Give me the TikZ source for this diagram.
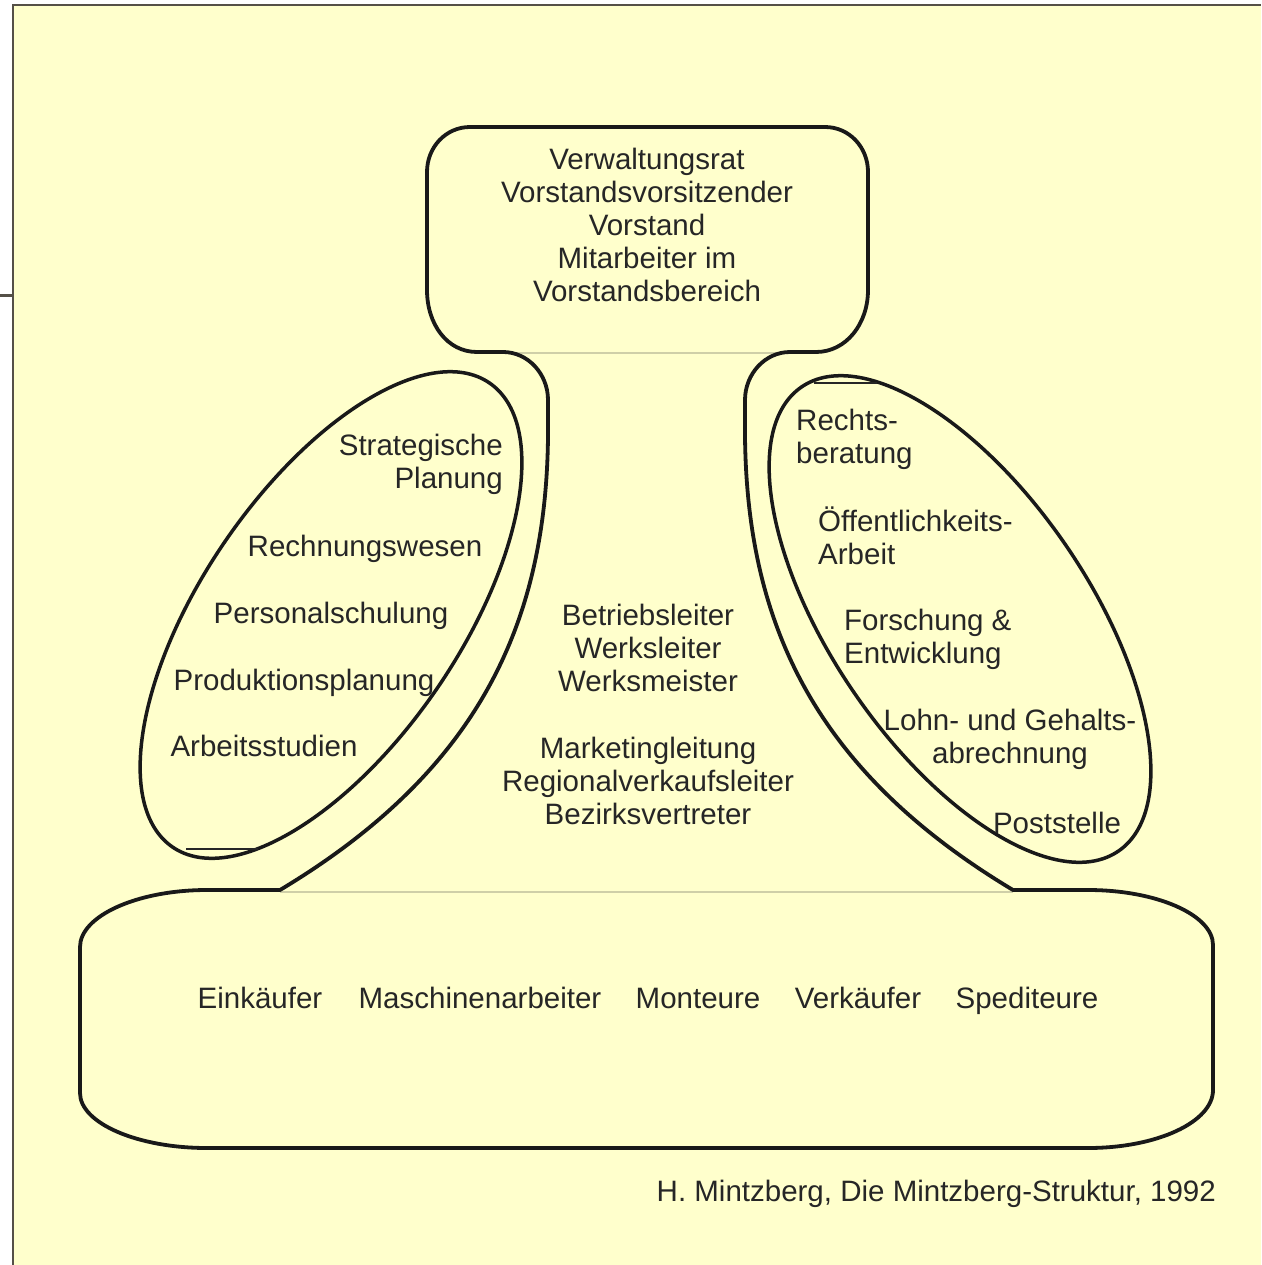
\documentclass[tikz,border=0pt]{standalone}
\usepackage{fontspec}
\setmainfont{Liberation Sans}
\begin{document}
\begin{tikzpicture}[x=1pt,y=-1pt,
  outline/.style={line width=3.8pt,draw=black!90,line join=round},
  seam/.style={line width=1.5pt,draw=seamgrey},
  chord/.style={line width=1.1pt,draw=black!85},
  lbl/.style={inner sep=0pt,font=\fontsize{29.5}{33}\selectfont,text=textgrey},
  one/.style={lbl,text height=22pt,text depth=6pt},
  frame/.style={draw=framegrey,line width=2pt}]
\definecolor{bgyellow}{HTML}{FFFFCC}
\definecolor{seamgrey}{HTML}{CFCFA8}
\definecolor{textgrey}{HTML}{262626}
\definecolor{framegrey}{HTML}{555047}
% page and background
\useasboundingbox (0,0) rectangle (1261,1265);
\fill[white] (0,0) rectangle (1261,1265);
\fill[bgyellow] (13,5) rectangle (1261,1265);
\draw[frame] (12,5) -- (1261,5);
\draw[frame] (13,5) -- (13,1265);
\draw[framegrey,line width=3pt] (0,295) -- (13,295);
% seams
\coordinate (nl) at (503,353);
\coordinate (nr) at (790,353);
\coordinate (bl) at (280,892);
\coordinate (br) at (1013,892);
\draw[seam] (nl) -- (nr);
\draw[seam] (bl) -- (br);
% main outline
\draw[outline]
  (470,127) -- (825,127)
  .. controls (849,127) and (868,147) .. (868,172)
  -- (868,290)
  .. controls (868,324) and (846,352) .. (816,352)
  -- (790,352)
  .. controls (765,352) and (745,374) .. (745,400)
  -- (745,420)
  .. controls (743,620) and (813,770) .. (1013,890)
  -- (1088,890)
  .. controls (1157,890) and (1213,915) .. (1213,945)
  -- (1213,1090)
  .. controls (1213,1122) and (1157,1148) .. (1088,1148)
  -- (207,1148)
  .. controls (137,1148) and (80,1123) .. (80,1093)
  -- (80,947)
  .. controls (80,916) and (137,890) .. (207,890)
  -- (280,890)
  .. controls (480,770) and (550,620) .. (548,420)
  -- (548,400)
  .. controls (548,374) and (528,352) .. (503,352)
  -- (477,352)
  .. controls (447,352) and (427,324) .. (427,290)
  -- (427,172)
  .. controls (427,147) and (446,127) .. (470,127)
  -- cycle;
% staff ellipses
\draw[outline,line width=3.5pt,rotate around={55.7:(331,615)}] (331,615) ellipse [x radius=281pt, y radius=129pt];
\draw[outline,line width=3.5pt,rotate around={-55.7:(960,619)}] (960,619) ellipse [x radius=281pt, y radius=129pt];
\draw[chord] (186,849) -- (258,849);
\draw[chord] (814,383) -- (877,383);
% top
\node[lbl,align=center] (apex) at (647,225) {Verwaltungsrat\\Vorstandsvorsitzender\\Vorstand\\Mitarbeiter im\\Vorstandsbereich};
% middle line
\node[lbl,align=center] (mid1) at (648,648) {Betriebsleiter\\Werksleiter\\Werksmeister};
\node[lbl,align=center] (mid2) at (648,781) {Marketingleitung\\Regionalverkaufsleiter\\Bezirksvertreter};
% technostructure
\node[lbl,align=right,anchor=east] (t1) at (503,464) {Strategische\\Planung};
\node[one] (t2) at (365,548) {Rechnungswesen};
\node[one] (t3) at (331,615) {Personalschulung};
\node[one] (t4) at (304,682) {Produktionsplanung};
\node[one] (t5) at (264,748) {Arbeitsstudien};
% support staff
\node[lbl,align=left,anchor=west] (s1) at (796,439) {Rechts-\\beratung};
\node[lbl,align=left,anchor=west] (s2) at (818,536) {Öffentlichkeits-\\Arbeit};
\node[lbl,align=left,anchor=west] (s3) at (844,639) {Forschung \&\\Entwicklung};
\node[lbl,align=center] (s4) at (1010,739) {Lohn- und Gehalts-\\abrechnung};
\node[one] (s5) at (1057,825) {Poststelle};
% operating core
\node[one] (o1) at (260,1000) {Einkäufer};
\node[one] (o2) at (480,1000) {Maschinenarbeiter};
\node[one] (o3) at (698,1000) {Monteure};
\node[one] (o4) at (858,1000) {Verkäufer};
\node[one] (o5) at (1027,1000) {Spediteure};
% source
\node[one,anchor=east] (src) at (1216,1193) {H. Mintzberg, Die Mintzberg-Struktur, 1992};
\end{tikzpicture}
\end{document}
